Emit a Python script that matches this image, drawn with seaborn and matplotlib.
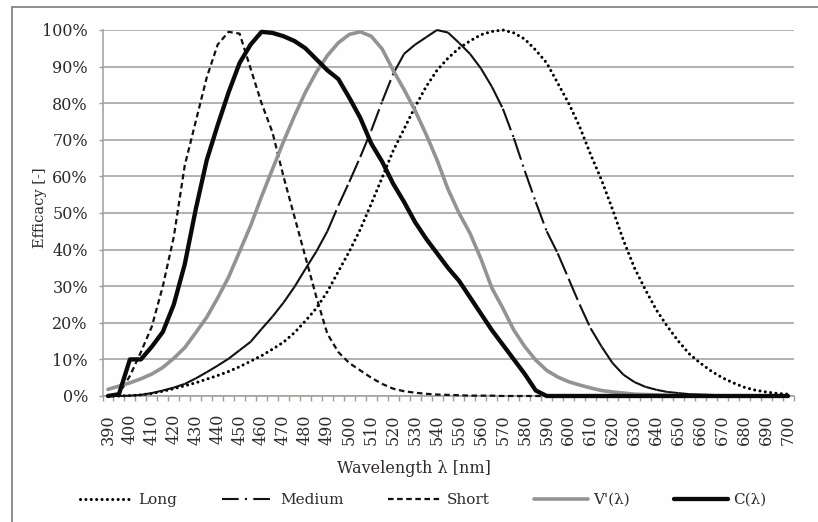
import numpy as np
import matplotlib
matplotlib.use("Agg")
import matplotlib.pyplot as plt
import seaborn as sns
from matplotlib.collections import LineCollection
from matplotlib.lines import Line2D
from matplotlib.ticker import FixedLocator, PercentFormatter
from matplotlib.patches import Rectangle

# ---------------- data (values in %) ----------------
wavelength = list(range(390, 705, 5))

long_cone = [0, 0, 0.1, 0.3, 0.7, 1.3, 2.0, 2.8, 3.6, 4.6,
             5.6, 6.7, 8.0, 9.5, 11.0, 12.8, 14.7, 17.3, 20.5, 24.0,
             28.5, 34.0, 39.5, 45.5, 52.5, 59.7, 67.0, 73.0, 79.0, 84.5,
             89.0, 92.3, 95.0, 97.0, 98.7, 99.6, 100, 99.2, 97.5, 94.5,
             91.0, 85.5, 80.0, 73.6, 66.0, 59.0, 51.0, 42.5, 35.0, 29.0,
             23.5, 19.0, 15.0, 11.5, 9.0, 6.8, 5.0, 3.6, 2.4, 1.6,
             1.1, 0.7, 0.5]

medium_cone = [0, 0, 0.1, 0.3, 0.8, 1.5, 2.3, 3.3, 4.8, 6.5,
               8.3, 10.2, 12.5, 14.8, 18.3, 21.7, 25.5, 29.8, 34.7, 39.5,
               45.0, 52.0, 58.5, 65.3, 72.5, 80.5, 88.0, 93.5, 96.0, 98.0,
               100, 99.3, 96.5, 93.5, 89.5, 84.5, 78.5, 70.5, 61.5, 53.0,
               45.0, 39.0, 32.0, 25.0, 18.5, 13.5, 9.0, 5.8, 3.8, 2.5,
               1.7, 1.1, 0.8, 0.5, 0.4, 0.3, 0.2, 0.1, 0.1, 0.1,
               0, 0, 0]

short_cone = [0, 0.5, 5.5, 12.0, 19.0, 30.0, 43.5, 63.0, 75.0, 87.0,
              96.0, 99.5, 99.0, 89.5, 80.0, 72.0, 60.0, 49.0, 38.0, 27.0,
              17.0, 12.0, 9.0, 7.0, 5.0, 3.3, 2.0, 1.3, 0.9, 0.6,
              0.4, 0.3, 0.2, 0.1, 0.1, 0.1, 0, 0, 0, 0,
              0, 0, 0, 0, 0, 0, 0, 0, 0, 0,
              0, 0, 0, 0, 0, 0, 0, 0, 0, 0,
              0, 0, 0]

v_prime = [1.8, 2.7, 3.6, 4.7, 6.0, 7.8, 10.3, 13.2, 17.3, 21.5,
           26.8, 32.5, 39.5, 46.5, 54.5, 62.0, 69.5, 76.5, 83.0, 88.5,
           93.0, 96.5, 98.8, 99.5, 98.3, 94.8, 89.0, 83.7, 78.0, 71.5,
           64.5, 56.5, 50.0, 44.5, 37.5, 29.5, 24.0, 18.0, 13.5, 9.8,
           7.0, 5.2, 3.9, 3.0, 2.2, 1.5, 1.1, 0.8, 0.5, 0.4,
           0.3, 0.2, 0.1, 0, 0, 0, 0, 0, 0, 0,
           0, 0, 0]

c_lambda = [0, 0.5, 10.0, 10.0, 13.5, 17.5, 25.0, 36.0, 51.0, 64.4,
            74.0, 83.0, 91.0, 96.0, 99.5, 99.2, 98.3, 97.0, 95.0, 92.0,
            89.0, 86.6, 81.5, 76.0, 69.0, 64.0, 58.0, 53.0, 47.5, 43.0,
            39.0, 35.0, 31.5, 27.0, 22.5, 18.0, 14.0, 10.0, 6.0, 1.5,
            0, 0, 0, 0, 0, 0, 0, 0, 0, 0,
            0, 0, 0, 0, 0, 0, 0, 0, 0, 0,
            0, 0, 0]

labels = ["Long", "Medium", "Short", "V'(λ)", "C(λ)"]

# ---------------- style ----------------
GRID = "#a19c98"
TXT = "#2e2a28"
GREY_LINE = "#939393"

sns.set_theme(style="white")
plt.rcParams['font.family'] = ['DejaVu Serif', 'DejaVu Sans']

fig = plt.figure(figsize=(8.18, 5.22), dpi=100, facecolor="#fefefe")
ax = fig.add_axes([102.5 / 818, 1 - 396 / 522, 691 / 818, 366 / 522])
ax.set_facecolor("#fefefe")

wl = np.array(wavelength, dtype=float)
frac = lambda v: np.array(v, dtype=float) / 100.0

# Long (dotted)
sns.lineplot(x=wl, y=frac(long_cone), ax=ax, color="black", linewidth=2.2,
             clip_on=False, zorder=3)
ln = ax.lines[-1]
ln.set_linestyle((0, (0.01, 1.75)))
ln.set_dash_capstyle("round")

# Medium (long dash-dot, pattern restarting on each segment like Excel)
med = frac(medium_cone)
segs = np.stack([np.column_stack([wl[:-1], med[:-1]]),
                 np.column_stack([wl[1:], med[1:]])], axis=1)
lc = LineCollection(segs, colors="#111111", linewidths=1.5,
                    linestyles=[(0, (11, 2.5, 1, 2.5))], zorder=3, clip_on=False)
ax.add_collection(lc)

# Short (dashed)
sns.lineplot(x=wl, y=frac(short_cone), ax=ax, color="#111111", linewidth=1.6,
             clip_on=False, zorder=3)
ln = ax.lines[-1]
ln.set_linestyle((0, (2.5, 1.6)))

# V'(λ) grey
sns.lineplot(x=wl, y=frac(v_prime), ax=ax, color=GREY_LINE, linewidth=2.6,
             clip_on=False, zorder=4)

# C(λ) thick black
sns.lineplot(x=wl, y=frac(c_lambda), ax=ax, color="#0a0a0a", linewidth=3.1,
             clip_on=False, zorder=5)

# ---------------- axes ----------------
ax.set_xlim(387.5, 702.5)
ax.set_ylim(0, 1)
ax.yaxis.set_major_locator(FixedLocator(np.linspace(0, 1, 11)))
ax.yaxis.set_major_formatter(PercentFormatter(1.0, decimals=0))
ax.xaxis.set_major_locator(FixedLocator(wavelength[::2]))
ax.xaxis.set_minor_locator(FixedLocator(np.arange(387.5, 703, 5)))
ax.set_xticklabels([str(w) for w in wavelength[::2]])

ax.yaxis.grid(True, color=GRID, linewidth=1.1)
ax.set_axisbelow(True)
for s in ("top", "right"):
    ax.spines[s].set_visible(False)
for s in ("left", "bottom"):
    ax.spines[s].set_color(GRID)
    ax.spines[s].set_linewidth(1.1)

ax.tick_params(axis="x", which="major", length=0, pad=13, labelsize=11.5,
               labelcolor=TXT, labelrotation=90)
ax.tick_params(axis="x", which="minor", length=3.6, width=1.0, color=GRID,
               direction="out", bottom=True)
ax.tick_params(axis="y", which="major", length=3, width=1.0, color=GRID,
               direction="out", pad=7.5, labelsize=11.5, labelcolor=TXT, left=True)

ax.set_xlabel("Wavelength λ [nm]", fontsize=11.5, color=TXT)
ax.xaxis.set_label_coords((414 - 102.5) / 691, -0.175)
ax.set_ylabel("Efficacy [-]", fontsize=10.5, color=TXT, va="center")
ax.yaxis.set_label_coords((40 - 102.5) / 691, (396 - 208) / 366)

# ---------------- legend ----------------
handles = [
    Line2D([], [], color="black", linewidth=2.2, linestyle=(0, (0.01, 1.75)),
           dash_capstyle="round"),
    Line2D([], [], color="#111111", linewidth=1.5, linestyle=(0, (8, 3, 1, 3))),
    Line2D([], [], color="#111111", linewidth=1.6, linestyle=(0, (2.5, 1.6))),
    Line2D([], [], color=GREY_LINE, linewidth=2.6),
    Line2D([], [], color="#0a0a0a", linewidth=3.1),
]
leg = fig.legend(handles, labels, loc="center", bbox_to_anchor=(423 / 818, 1 - 500 / 522),
                 ncol=5, frameon=False, fontsize=11, handlelength=3.5,
                 handletextpad=0.35, columnspacing=2.9)
for t in leg.get_texts():
    t.set_color(TXT)

# outer frame
fig.add_artist(Rectangle((12 / 818, -0.05), 1.2, (1 - 7 / 522) + 0.05,
                         transform=fig.transFigure, fill=False,
                         edgecolor="#7b7b7b", linewidth=1.2))

fig.savefig("out.png", dpi=100, facecolor=fig.get_facecolor())
